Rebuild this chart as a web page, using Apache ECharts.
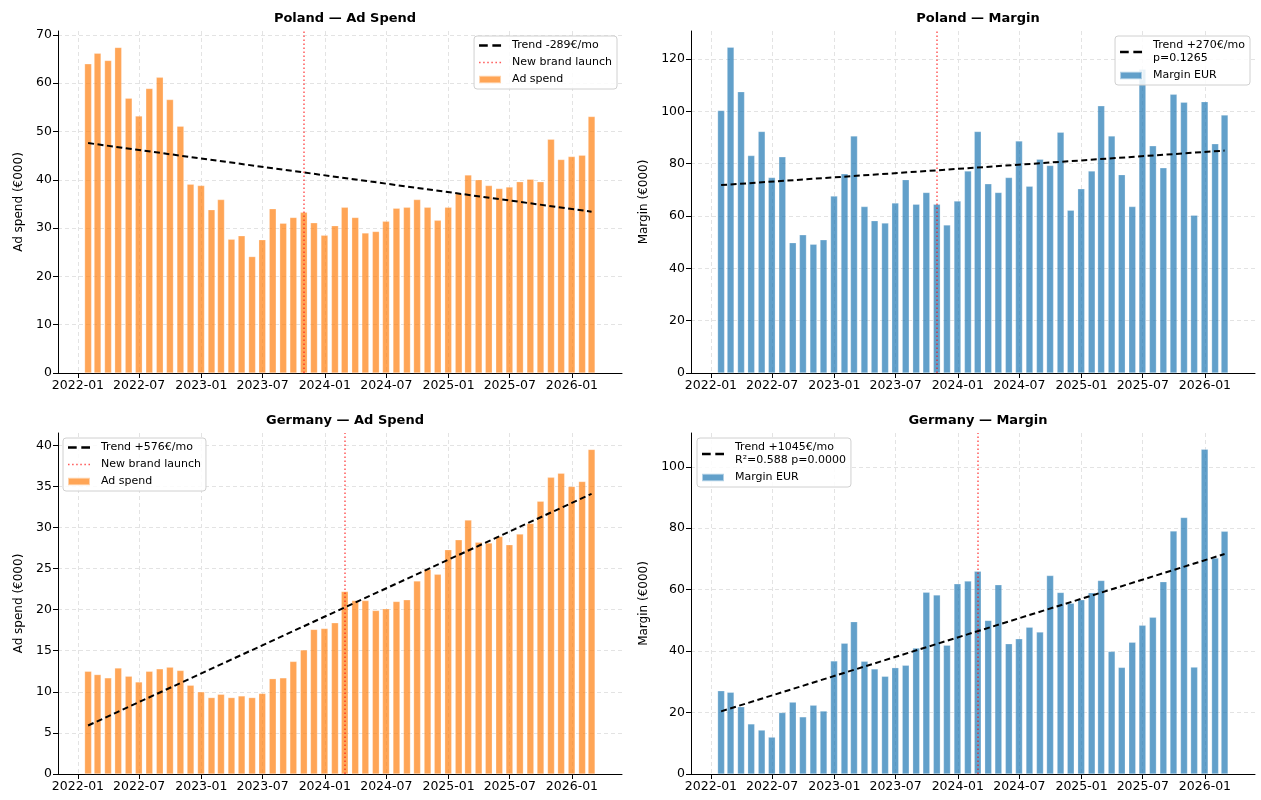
<!DOCTYPE html>
<html>
<head>
<meta charset="utf-8">
<script src="https://cdn.jsdelivr.net/npm/echarts@6/dist/echarts.min.js"></script>
<style>html,body{margin:0;padding:0;background:#fff;}#chart{width:1261px;height:800px;}</style>
</head>
<body>
<div id="chart"></div>
<script>
// ---- data ----
const months = [
  '2022-01-31','2022-02-28','2022-03-31','2022-04-30','2022-05-31','2022-06-30','2022-07-31','2022-08-31','2022-09-30','2022-10-31','2022-11-30','2022-12-31',
  '2023-01-31','2023-02-28','2023-03-31','2023-04-30','2023-05-31','2023-06-30','2023-07-31','2023-08-31','2023-09-30','2023-10-31','2023-11-30','2023-12-31',
  '2024-01-31','2024-02-29','2024-03-31','2024-04-30','2024-05-31','2024-06-30','2024-07-31','2024-08-31','2024-09-30','2024-10-31','2024-11-30','2024-12-31',
  '2025-01-31','2025-02-28','2025-03-31','2025-04-30','2025-05-31','2025-06-30','2025-07-31','2025-08-31','2025-09-30','2025-10-31','2025-11-30','2025-12-31',
  '2026-01-31','2026-02-28'
];
const xTicks = ['2022-01-01','2022-07-01','2023-01-01','2023-07-01','2024-01-01','2024-07-01','2025-01-01','2025-07-01','2026-01-01'];

const plAdSpend = [64.0,66.2,64.7,67.4,56.9,53.2,58.9,61.2,56.6,51.1, 39.1,38.8,33.8,35.9,27.7,28.4,24.1,27.6,34.0,31.0,
  32.2,33.3,31.1,28.5,30.5,34.3,32.2,29.0,29.3,31.4, 34.1,34.3,35.9,34.3,31.6,34.3,37.1,41.0,40.0,38.8,
  38.2,38.5,39.6,40.1,39.6,48.4,44.2,44.8,45.1,53.1];
const plMargin = [100.3,124.5,107.5,83.1,92.3,74.7,82.6,49.8,52.8,49.2, 50.9,67.6,76.1,90.6,63.6,58.2,57.3,65.0,73.9,64.5,
  69.0,64.5,56.6,65.7,77.2,92.3,72.3,69.0,74.7,88.7, 71.4,81.7,79.3,92.0,62.2,70.4,77.2,102.1,90.6,75.8,
  63.6,116.1,86.8,78.4,106.5,103.5,60.3,103.7,87.6,98.6];
const deAdSpend = [12.5,12.1,11.7,12.9,11.9,11.2,12.5,12.8,13.0,12.6, 10.8,10.0,9.3,9.7,9.3,9.5,9.3,9.8,11.6,11.7,
  13.7,15.1,17.6,17.7,18.4,22.2,21.1,21.1,19.9,20.1, 21.0,21.2,23.5,24.9,24.3,27.3,28.5,30.9,28.2,28.1,
  28.9,27.9,29.2,30.5,33.2,36.1,36.6,35.0,35.6,39.5];
const deMargin = [27.1,26.6,21.9,16.3,14.3,12.0,20.0,23.4,18.6,22.4, 20.5,36.8,42.6,49.6,36.7,34.2,31.8,34.6,35.4,41.0,
  59.2,58.3,41.9,61.9,62.8,66.0,50.0,61.6,42.4,44.0, 47.8,46.2,64.6,59.1,55.6,56.7,59.0,63.0,39.9,34.7,
  42.9,48.4,51.0,62.6,79.1,83.5,34.8,105.7,70.3,79.0];

// trend line endpoints (first month, last month)
const plAdTrend = [47.6, 33.4];
const plMarginTrend = [71.8, 85.0];
const deAdTrend = [5.9, 34.1];
const deMarginTrend = [20.4, 71.6];

const plLaunch = '2023-11-01';
const deLaunch = '2024-03-01';

const yTicksPlAd = [0,10,20,30,40,50,60,70];
const yTicksPlMargin = [0,20,40,60,80,100,120];
const yTicksDeAd = [0,5,10,15,20,25,30,35,40];
const yTicksDeMargin = [0,20,40,60,80,100];

const titles = ['Poland — Ad Spend','Poland — Margin','Germany — Ad Spend','Germany — Margin'];

// ---- chart ----
const FONT = 'DejaVu Sans';
const ORANGE = 'rgba(255,127,14,0.7)';
const BLUE = 'rgba(31,119,180,0.7)';
const RED = 'rgba(255,0,0,0.65)';
const DASH_ICON = 'path://M0,0h8.5v2.4H0z M13,0h8.5v2.4h-8.5z';
const DOT_ICON = 'path://M0,0h1.5v1.5H0z M4,0h1.5v1.5H4z M8,0h1.5v1.5H8z M12,0h1.5v1.5H12z M16,0h1.5v1.5H16z M20,0h1.5v1.5H20z';

const ts = s => Date.parse(s + 'T00:00:00Z');
const pad = n => (n < 10 ? '0' : '') + n;
const fmtDate = v => { const d = new Date(v); return d.getUTCFullYear() + '-' + pad(d.getUTCMonth() + 1); };
const xTickTs = xTicks.map(ts);
const monthTs = months.map(ts);

const grids = [
  {left:58, top:31, width:564, height:342},
  {left:691, top:31, width:564, height:342},
  {left:58, top:433, width:564, height:341},
  {left:691, top:433, width:564, height:341}
];

const panels = [
  {vals: plAdSpend, trend: plAdTrend, launch: plLaunch, yTicks: yTicksPlAd, yMax: 70.8, color: ORANGE,
   barName:'Ad spend', trendName:'Trend -289€/mo', yName:'Ad spend (€000)', launchLegend:true,
   legend:{right:1261-617, top:36}, nameGap:33},
  {vals: plMargin, trend: plMarginTrend, launch: plLaunch, yTicks: yTicksPlMargin, yMax: 130.7, color: BLUE,
   barName:'Margin EUR', trendName:'Trend +270€/mo\np=0.1265', yName:'Margin (€000)', launchLegend:false,
   legend:{right:1261-1250, top:36}, nameGap:41},
  {vals: deAdSpend, trend: deAdTrend, launch: deLaunch, yTicks: yTicksDeAd, yMax: 41.5, color: ORANGE,
   barName:'Ad spend', trendName:'Trend +576€/mo', yName:'Ad spend (€000)', launchLegend:true,
   legend:{left:63, top:438}, nameGap:33},
  {vals: deMargin, trend: deMarginTrend, launch: deLaunch, yTicks: yTicksDeMargin, yMax: 111, color: BLUE,
   barName:'Margin EUR', trendName:'Trend +1045€/mo\nR²=0.588 p=0.0000', yName:'Margin (€000)', launchLegend:false,
   legend:{left:697, top:438}, nameGap:41}
];

const option = {
  animation:false,
  backgroundColor:'#fff',
  textStyle:{fontFamily:FONT},
  title:[], grid:[], xAxis:[], yAxis:[], legend:[], series:[]
};

panels.forEach((p, i) => {
  const g = grids[i];
  option.grid.push({left:g.left, top:g.top, width:g.width, height:g.height, containLabel:false});
  option.title.push({
    text: titles[i], left: g.left + g.width/2, top: g.top - 24, textAlign:'center',
    textStyle:{fontFamily:FONT, fontSize:13, fontWeight:'bold', color:'#000'}
  });
  option.xAxis.push({
    type:'value', gridIndex:i, min:ts('2021-11-03'), max:ts('2026-05-29'), scale:true,
    axisLine:{onZero:false, lineStyle:{color:'#000', width:1}},
    axisTick:{show:true, length:5, customValues:xTickTs, lineStyle:{color:'#000'}},
    axisLabel:{customValues:xTickTs, formatter:fmtDate, fontFamily:FONT, fontSize:12.5, color:'#000', margin:6, hideOverlap:false},
    splitLine:{show:true, lineStyle:{color:'#e3e3e3', type:[4,3], width:1}}
  });
  option.yAxis.push({
    type:'value', gridIndex:i, min:0, max:p.yMax,
    name:p.yName, nameLocation:'middle', nameGap:p.nameGap, nameRotate:90,
    nameTextStyle:{fontFamily:FONT, fontSize:12, color:'#000'},
    axisLine:{show:true, onZero:false, lineStyle:{color:'#000', width:1}},
    axisTick:{show:true, length:5, customValues:p.yTicks, lineStyle:{color:'#000'}},
    axisLabel:{customValues:p.yTicks, fontFamily:FONT, fontSize:12.5, color:'#000', margin:6},
    splitLine:{show:true, lineStyle:{color:'#e3e3e3', type:[4,3], width:1}}
  });

  const legendData = [{name:p.trendName, icon:DASH_ICON}];
  if (p.launchLegend) legendData.push({name:'New brand launch', icon:DOT_ICON});
  legendData.push({name:p.barName, icon:'rect'});
  option.legend.push(Object.assign({
    orient:'vertical', align:'left', data:legendData,
    itemWidth:22, itemHeight:7.5, itemGap:4, padding:[3,5,3,4],
    borderColor:'#d0d0d0', borderWidth:1, borderRadius:3, backgroundColor:'rgba(255,255,255,0.85)',
    textStyle:{fontFamily:FONT, fontSize:11, color:'#000', lineHeight:13, padding:[0,0,0,6]},
    selectedMode:false
  }, p.legend));

  option.series.push({
    type:'bar', name:p.barName, xAxisIndex:i, yAxisIndex:i,
    data: monthTs.map((m, k) => [m, p.vals[k]]),
    barWidth:7, itemStyle:{color:p.color, borderColor:'rgba(255,255,255,0.5)', borderWidth:0.5},
    z:2
  });
  option.series.push({
    type:'line', name:'New brand launch', xAxisIndex:i, yAxisIndex:i,
    data:[], symbol:'none', z:3,
    lineStyle:{color:RED, type:[1.5,2.5], width:1.5},
    itemStyle:{color:RED},
    markLine:{silent:true, symbol:'none', label:{show:false},
      lineStyle:{color:RED, type:[1.5,2.5], width:1.5},
      data:[{xAxis:ts(p.launch)}]}
  });
  option.series.push({
    type:'line', name:p.trendName, xAxisIndex:i, yAxisIndex:i,
    data:[[monthTs[0], p.trend[0]], [monthTs[monthTs.length-1], p.trend[1]]],
    symbol:'none', z:4,
    lineStyle:{color:'#000', type:[6,3.5], width:2},
    itemStyle:{color:'#000'}
  });
});

const chart = echarts.init(document.getElementById('chart'), null, {renderer:'canvas'});
chart.setOption(option);
</script>
</body>
</html>
